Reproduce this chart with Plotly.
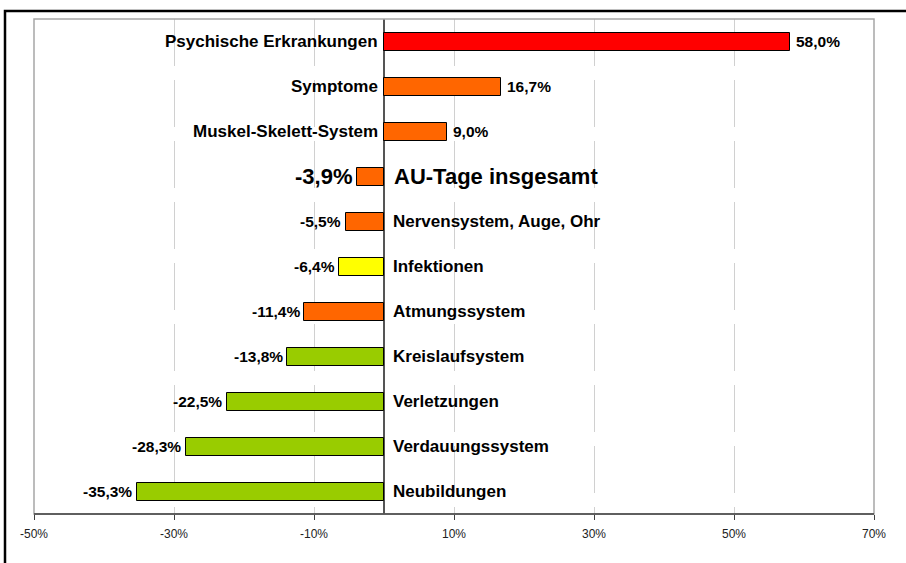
import plotly.graph_objects as go

categories = [
    "Psychische Erkrankungen", "Symptome", "Muskel-Skelett-System",
    "AU-Tage insgesamt", "Nervensystem, Auge, Ohr", "Infektionen",
    "Atmungssystem", "Kreislaufsystem", "Verletzungen",
    "Verdauungssystem", "Neubildungen",
]
values = [58.0, 16.7, 9.0, -3.9, -5.5, -6.4, -11.4, -13.8, -22.5, -28.3, -35.3]
colors = ["#FF0000", "#FF6600", "#FF6600", "#FF6600", "#FF6600", "#FFFF00",
          "#FF6600", "#99CC00", "#99CC00", "#99CC00", "#99CC00"]
highlight = "AU-Tage insgesamt"
tick_vals = [-50, -30, -10, 10, 30, 50, 70]
tick_text = ["-50%", "-30%", "-10%", "10%", "30%", "50%", "70%"]

FONT = "Liberation Sans, Arial, sans-serif"

fig = go.Figure()
fig.add_trace(go.Bar(
    x=values, y=categories, orientation="h", width=0.4,
    marker=dict(color=colors, line=dict(color="#000000", width=1)),
    hoverinfo="skip",
))

annotations = []
for cat, v in zip(categories, values):
    big = cat == highlight
    vsize = 22 if big else 15.5
    csize = 22 if big else 17
    label = f"{v:.1f}".replace(".", ",") + "%"
    if v > 0:
        annotations.append(dict(x=v, y=cat, text=f"<b>{label}</b>", showarrow=False,
                                xanchor="left", yanchor="middle", xshift=6,
                                font=dict(size=vsize, family=FONT, color="#000"),
                                borderpad=0, borderwidth=0))
        annotations.append(dict(x=0, y=cat, text=f"<b>{cat}</b>", showarrow=False,
                                xanchor="right", yanchor="middle", xshift=-6,
                                font=dict(size=csize, family=FONT, color="#000"),
                                borderpad=0, borderwidth=0))
    else:
        annotations.append(dict(x=v, y=cat, text=f"<b>{label}</b>", showarrow=False,
                                xanchor="right", yanchor="middle", xshift=-4.5,
                                font=dict(size=vsize, family=FONT, color="#000"),
                                borderpad=0, borderwidth=0))
        annotations.append(dict(x=0, y=cat, text=f"<b>{cat}</b>", showarrow=False,
                                xanchor="left", yanchor="middle",
                                xshift=10 if big else 8.5,
                                font=dict(size=csize, family=FONT, color="#000"),
                                borderpad=0, borderwidth=0))

L, R, T, B = 34, 874, 19, 514
W, H = 906, 563

def px_x(p):
    return (p - L) / (R - L)

def px_y(p):
    return 1 - (p - T) / (B - T)

shapes = [
    # outer black frame (extends beyond the picture on right and bottom)
    dict(type="rect", xref="paper", yref="paper",
         x0=px_x(5), x1=px_x(930), y0=px_y(11), y1=px_y(600),
         line=dict(color="#000000", width=2.5), layer="above"),
    # plot area border (grey)
    dict(type="rect", xref="paper", yref="paper", x0=0, x1=1, y0=0, y1=1,
         line=dict(color="#A6A6A6", width=1.5), layer="above"),
    # bottom axis line
    dict(type="line", xref="paper", yref="paper", x0=0, x1=1, y0=0, y1=0,
         line=dict(color="#404040", width=1.5), layer="above"),
]

fig.update_layout(
    width=W, height=H,
    margin=dict(l=L, r=W - R, t=T, b=H - B, pad=0),
    paper_bgcolor="white", plot_bgcolor="white",
    showlegend=False,
    annotations=annotations,
    shapes=shapes,
    bargap=0,
)
fig.update_xaxes(
    range=[-50, 70], tickvals=tick_vals, ticktext=tick_text,
    showgrid=True, gridcolor="#D0D0D0", gridwidth=1, griddash="47px,14px",
    zeroline=True, zerolinecolor="#555555", zerolinewidth=1.5,
    showline=False, ticks="outside", ticklen=5, tickcolor="#404040", tickwidth=1,
    ticklabelstandoff=4,
    tickfont=dict(size=12, family=FONT, color="#222222"),
    fixedrange=True,
)
fig.update_yaxes(
    autorange="reversed", showticklabels=False, showgrid=False, zeroline=False,
    showline=False, ticks="", fixedrange=True,
)

fig.write_html(
    "out.html",
    config={"displayModeBar": False},
    post_script="document.body.style.margin='0';document.body.style.overflow='hidden';",
)
